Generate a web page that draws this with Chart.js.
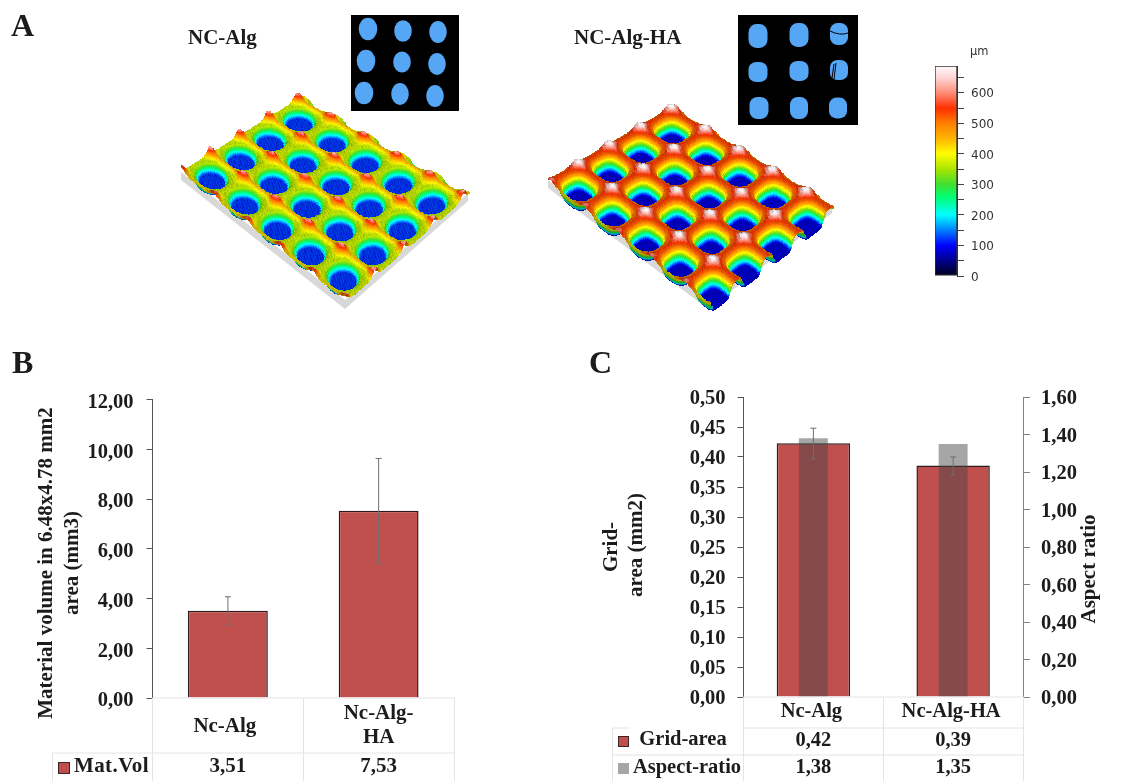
<!DOCTYPE html>
<html>
<head>
<meta charset="utf-8">
<title>Material volume, grid area and aspect ratio</title>
<script src="https://cdn.jsdelivr.net/npm/chart.js@4"></script>
<style>
  body { margin: 0; background: #fff; }
  #page { position: relative; width: 1126px; height: 781px; overflow: hidden; }
  canvas { position: absolute; }
  .lbl { position: absolute; font-family: "Liberation Serif", serif; font-weight: bold; color: #1c1c1c; white-space: nowrap; line-height: 1; }
</style>
</head>
<body>
<div id="page">
  <canvas id="photo" width="925" height="335" style="left:0;top:0"></canvas>
  <canvas id="scaleBar" width="90" height="255" style="left:920px;top:40px"></canvas>
  <canvas id="matVol" width="480" height="421" style="left:0;top:360px"></canvas>
  <canvas id="gridArea" width="546" height="421" style="left:580px;top:360px"></canvas>
  <div class="lbl" style="left:11px;top:9px;font-size:32px">A</div>
  <div class="lbl" style="left:12px;top:346px;font-size:32px">B</div>
  <div class="lbl" style="left:589px;top:346px;font-size:32px">C</div>
  <div class="lbl" style="left:188px;top:27px;font-size:21px">NC-Alg</div>
  <div class="lbl" style="left:574px;top:27px;font-size:21px">NC-Alg-HA</div>
  <div class="lbl" style="left:970px;top:44px;font:11.5px 'DejaVu Sans';color:#333">µm</div>
</div>
<script>
// panel B
const matCategories = [['Nc-Alg'], ['Nc-Alg-', 'HA']];
const matVolume = [3.51, 7.53];
const matErrLow = [2.94, 5.4];
const matErrHigh = [4.07, 9.63];
const matTable = ['3,51', '7,53'];

// panel C
const gridCategories = ['Nc-Alg', 'Nc-Alg-HA'];
const gridArea = [0.423, 0.386];
const gridErrLow = [0.397, 0.37];
const gridErrHigh = [0.448, 0.4];
const aspectRatio = [1.38, 1.35];
const gridTable = ['0,42', '0,39'];
const aspectTable = ['1,38', '1,35'];

// height colour scale of panel A
const barTicks = [0, 100, 200, 300, 400, 500, 600];
const barMax = 688;
const barStops = [
  [0, '#000018'], [50, '#00008c'], [100, '#0000ff'], [150, '#0080ff'], [200, '#00ffff'],
  [260, '#00ff70'], [300, '#40e030'], [350, '#a8e400'], [400, '#ffff00'], [450, '#ffb400'],
  [500, '#ff8000'], [550, '#ff3000'], [600, '#ff8c78'], [650, '#ffd6d6'], [688, '#fffafa'],
];

const RED = '#c0504d';
const serif = '"Liberation Serif", serif';
const comma = v => v.toFixed(2).replace('.', ',');
// the empty first line nudges a label down, the serif digits sit high otherwise
const nudged = v => ['', comma(v)];

Chart.defaults.animation = false;
Chart.defaults.responsive = false;
Chart.defaults.devicePixelRatio = 1;
Chart.defaults.plugins.legend.display = false;
Chart.defaults.plugins.tooltip.enabled = false;

function put(ctx, str, x, y, size, opts = {}) {
  ctx.save();
  ctx.translate(x, y);
  if (opts.rot) ctx.rotate(opts.rot);
  ctx.font = 'bold ' + size + 'px ' + serif;
  ctx.fillStyle = '#1c1c1c';
  ctx.textAlign = opts.align || 'center';
  ctx.textBaseline = 'middle';
  if (opts.spacing) ctx.letterSpacing = opts.spacing;
  ctx.fillText(str, 0, 0);
  ctx.restore();
}

function lines(ctx, segs, color) {
  ctx.save();
  ctx.strokeStyle = color;
  ctx.lineWidth = 1;
  ctx.beginPath();
  segs.forEach(s => { ctx.moveTo(s[0], s[1]); ctx.lineTo(s[2], s[3]); });
  ctx.stroke();
  ctx.restore();
}

function errorBars(chart, low, high, scaleId) {
  const { ctx, scales } = chart;
  const segs = [];
  low.forEach((l, i) => {
    const x = scales.x.getPixelForValue(i);
    const y0 = scales[scaleId].getPixelForValue(l);
    const y1 = scales[scaleId].getPixelForValue(high[i]);
    segs.push([x, y0, x, y1], [x - 3, y0, x + 3, y0], [x - 3, y1, x + 3, y1]);
  });
  lines(ctx, segs, '#6f6f6f');
}

function swatch(ctx, x, y, w, h, fill, edge) {
  ctx.fillStyle = fill;
  ctx.fillRect(x, y, w, h);
  if (edge) { ctx.strokeStyle = edge; ctx.strokeRect(x + .5, y + .5, w - 1, h - 1); }
}

// chart B
new Chart(document.getElementById('matVol'), {
  type: 'bar',
  data: {
    labels: matCategories,
    datasets: [{
      label: 'Mat.Vol',
      data: matVolume,
      backgroundColor: RED,
      borderColor: '#2e1c1c',
      borderWidth: 1.5,
      barPercentage: 0.53,
      categoryPercentage: 1,
    }],
  },
  options: {
    layout: { autoPadding: false, padding: { left: 0, right: 26, top: 39.5, bottom: 83 } },
    scales: {
      x: { display: false },
      y: {
        min: 0, max: 12,
        afterFit(axis) { axis.width = 152.5; },
        border: { color: '#555' },
        grid: { drawOnChartArea: false, tickLength: 6, color: '#555' },
        ticks: { stepSize: 2, padding: 13, color: '#1c1c1c', font: { family: serif, weight: 'bold', size: 20.5, lineHeight: .3 }, callback: nudged },
      },
    },
  },
  plugins: [{
    id: 'matExtras',
    afterDatasetsDraw(chart) {
      errorBars(chart, matErrLow, matErrHigh, 'y');
    },
    afterDraw(chart) {
      const { ctx, scales } = chart;
      const top = 338, row = 393, end = 421;
      lines(ctx, [
        [152.5, top, 454.5, top], [52.5, row, 454.5, row],
        [152.5, top, 152.5, end], [303.5, top, 303.5, end], [454.5, top, 454.5, end], [52.5, row, 52.5, end],
      ], '#e4e4e4');
      matCategories.forEach((c, i) => {
        const x = scales.x.getPixelForValue(i);
        if (c.length === 1) put(ctx, c[0], x - 3, 367, 21);
        else { put(ctx, c[0], x, 354, 21); put(ctx, c[1], x, 378, 21); }
        put(ctx, matTable[i], x, 407, 21);
      });
      swatch(ctx, 58, 402, 12, 12, RED, '#3a2626');
      put(ctx, 'Mat.Vol', 74, 407, 21, { align: 'left', spacing: '0.4px' });
      put(ctx, 'Material volume in 6.48x4.78 mm2', 47, 203, 21, { rot: -Math.PI / 2 });
      put(ctx, 'area (mm3)', 73, 203, 21, { rot: -Math.PI / 2 });
    },
  }],
});

// chart C
new Chart(document.getElementById('gridArea'), {
  type: 'bar',
  data: {
    labels: gridCategories,
    datasets: [
      {
        label: 'Aspect-ratio',
        data: aspectRatio,
        yAxisID: 'y1',
        order: 0,
        grouped: false,
        backgroundColor: 'rgba(70,70,70,0.48)',
        barPercentage: 0.207,
        categoryPercentage: 1,
      },
      {
        label: 'Grid-area',
        data: gridArea,
        yAxisID: 'y',
        order: 1,
        grouped: false,
        backgroundColor: RED,
        borderColor: '#2e1c1c',
        borderWidth: 1.5,
        barPercentage: 0.525,
        categoryPercentage: 1,
      },
    ],
  },
  options: {
    layout: { autoPadding: false, padding: { left: 0, right: 0, top: 37, bottom: 84 } },
    scales: {
      x: { display: false },
      y: {
        position: 'left',
        min: 0, max: 0.5,
        afterFit(axis) { axis.width = 163.5; },
        border: { color: '#555' },
        grid: { drawOnChartArea: false, tickLength: 6, color: '#555' },
        ticks: { stepSize: 0.05, padding: 12, color: '#1c1c1c', font: { family: serif, weight: 'bold', size: 20.5, lineHeight: .2 }, callback: nudged },
      },
      y1: {
        position: 'right',
        min: 0, max: 1.6,
        afterFit(axis) { axis.width = 103; },
        border: { color: '#808080' },
        grid: { drawOnChartArea: false, tickLength: 7, color: '#808080' },
        ticks: { stepSize: 0.2, padding: 11, color: '#1c1c1c', font: { family: serif, weight: 'bold', size: 20.5, lineHeight: .2 }, callback: nudged },
      },
    },
  },
  plugins: [{
    id: 'gridExtras',
    afterDatasetsDraw(chart) {
      errorBars(chart, gridErrLow, gridErrHigh, 'y');
    },
    afterDraw(chart) {
      const { ctx, scales } = chart;
      const top = 337, r1 = 368, r2 = 395, end = 421;
      lines(ctx, [
        [163.5, top, 443.5, top], [32.5, r1, 50, r1], [163.5, r1, 443.5, r1], [32.5, r2, 443.5, r2],
        [163.5, top, 163.5, end], [303.5, top, 303.5, end], [443.5, top, 443.5, end], [32.5, r1, 32.5, end],
      ], '#e4e4e4');
      gridCategories.forEach((c, i) => {
        const x = scales.x.getPixelForValue(i);
        put(ctx, c, x - 2, 352, 20.5);
        put(ctx, gridTable[i], x, 381, 20.5);
        put(ctx, aspectTable[i], x, 408, 20.5);
      });
      swatch(ctx, 38, 376, 11, 11, RED, '#3a2626');
      swatch(ctx, 38, 403, 11, 11, '#a6a6a6');
      put(ctx, 'Grid-area', 103, 380, 20.5);
      put(ctx, 'Aspect-ratio', 107, 408, 20.5);
      put(ctx, 'Grid-', 32, 187, 21, { rot: -Math.PI / 2 });
      put(ctx, 'area (mm2)', 57, 185, 21, { rot: -Math.PI / 2 });
      put(ctx, 'Aspect ratio', 510, 209, 21, { rot: -Math.PI / 2 });
    },
  }],
});

// colour scale next to panel A
function rgbOf(hex) {
  return [1, 3, 5].map(i => parseInt(hex.slice(i, i + 2), 16));
}

new Chart(document.getElementById('scaleBar'), {
  type: 'bar',
  data: {
    labels: ['µm'],
    datasets: [{
      data: [[0, barMax]],
      borderColor: '#333',
      borderWidth: 1,
      borderSkipped: false,
      barPercentage: 1,
      categoryPercentage: 1,
      backgroundColor(c) {
        const area = c.chart.chartArea;
        if (!area) return '#888';
        const g = c.chart.ctx.createLinearGradient(0, area.bottom, 0, area.top);
        barStops.forEach(s => g.addColorStop(s[0] / barMax, s[1]));
        return g;
      },
    }],
  },
  options: {
    layout: { autoPadding: false, padding: { left: 15, right: 0, top: 26, bottom: 19 } },
    scales: {
      x: { display: false },
      y: {
        position: 'right',
        min: 0, max: barMax,
        afterFit(axis) { axis.width = 53; },
        border: { color: '#333' },
        grid: { drawOnChartArea: false, tickLength: 7, color: '#444' },
        afterBuildTicks(axis) {
          const out = [];
          barTicks.forEach(v => { out.push({ value: v }); out.push({ value: v + 50 }); });
          axis.ticks = out;
        },
        ticks: {
          autoSkip: false, padding: 7, color: '#333', font: { family: '"DejaVu Sans"', size: 12, lineHeight: .25 },
          callback: v => (barTicks.includes(v) ? ['', String(v)] : ''),
        },
      },
    },
  },
});

// panel A: pictures of the printed scaffolds, drawn as plain illustrations
const lut = [];
(function () {
  for (let v = 0; v <= 700; v++) {
    let k = 0;
    while (k < barStops.length - 2 && barStops[k + 1][0] < v) k++;
    const a = barStops[k], b = barStops[k + 1];
    const t = Math.min(1, (v - a[0]) / (b[0] - a[0]));
    const ca = rgbOf(a[1]), cb = rgbOf(b[1]);
    lut.push(ca.map((c, i) => c + (cb[i] - c) * t));
  }
})();

const smooth = (a, b, x) => { const t = Math.max(0, Math.min(1, (x - a) / (b - a))); return t * t * (3 - 2 * t); };

function heightAt(u, v, s) {
  const X = (u - s.u0) / s.du, Y = (v - s.v0) / s.dv;
  const fx = X - Math.round(X), fy = Y - Math.round(Y);
  const d = Math.pow(Math.pow(Math.abs(fx), s.p) + Math.pow(Math.abs(fy), s.p), 1 / s.p);
  const wall = smooth(s.rf, s.ro, d);
  const gx = .5 - Math.abs(fx), gy = .5 - Math.abs(fy);
  const peak = Math.exp(-(gx * gx + gy * gy) / s.peakW);
  const ridge = Math.exp(-gx * gx / .005) * s.ridgeU + Math.exp(-gy * gy / .005) * s.ridgeV;
  const grain = Math.sin(u * 610 + v * 190) * Math.sin(v * 830 - u * 240) + .6 * Math.sin(u * 230 - v * 310);
  const streak = Math.sin(Math.atan2(fy, fx) * 42) * wall * (1 - wall) * 4;
  return s.floor + (s.top - s.floor) * wall + wall * (peak * s.peak + ridge)
    + grain * s.grain * (wall > .02 ? 1 : .7) + streak * s.streak;
}

function surface(img, W, s) {
  const [a, b, c, d] = s.corners;
  const N = 620, M = 560;
  for (let j = 0; j <= M; j++) {
    const v = j / M;
    for (let i = 0; i <= N; i++) {
      const u = i / N;
      const w0 = (1 - u) * (1 - v), w1 = u * (1 - v), w2 = u * v, w3 = (1 - u) * v;
      const h = heightAt(u, v, s);
      const slope = h - heightAt(u + .004, v + .004, s);
      const px = Math.round(w0 * a[0] + w1 * b[0] + w2 * c[0] + w3 * d[0]);
      const py = Math.round(w0 * a[1] + w1 * b[1] + w2 * c[1] + w3 * d[1] + (s.top - h) * s.k);
      const col = lut[Math.max(0, Math.min(700, Math.round(h)))];
      const light = Math.max(.7, Math.min(1, s.tone + slope * .006));
      for (let y = py; y < py + 2; y++) {
        for (let x = px; x < px + 2; x++) {
          const o = (y * W + x) * 4;
          img.data[o] = col[0] * light;
          img.data[o + 1] = col[1] * light;
          img.data[o + 2] = col[2] * light;
          img.data[o + 3] = 255;
        }
      }
    }
  }
}

const surfaces = [
  {
    corners: [[302, 97], [468, 193], [345, 300], [181, 172]],
    u0: .1, du: .2, v0: .17, dv: .24, p: 2, rf: .29, ro: .44,
    floor: 118, top: 352, peak: 165, peakW: .022, ridgeU: 15, ridgeV: 80, grain: 12, streak: 22, k: .03, tone: .86,
  },
  {
    corners: [[672, 107], [832, 205], [708, 300], [548, 180]],
    u0: .12, du: .21, v0: .16, dv: .25, p: 3, rf: .24, ro: .42,
    floor: 82, top: 490, peak: 130, peakW: .03, ridgeU: 45, ridgeV: 45, grain: 10, streak: 28, k: .03, tone: .84,
  },
];

const maskLeft = [
  [368, 29, 9.3, 11.2], [403, 31, 8.8, 10.8], [438, 32, 8.8, 11],
  [366, 61, 9.3, 11.2], [402, 62, 8.8, 10.5], [437, 64, 8.8, 11],
  [364, 93, 9.3, 11.3], [400, 94, 8.8, 11], [435, 96, 8.8, 11],
];
const maskRight = [
  [758, 36, 9.5, 12], [799, 35, 9.5, 12], [839, 34, 9, 11],
  [758, 72, 9.5, 10], [799, 71, 9.5, 10], [839, 70, 9, 10],
  [759, 108, 9.5, 11], [799, 108, 9, 11], [838, 108, 9, 10.5],
];

(function drawPhoto() {
  const canvas = document.getElementById('photo');
  const W = canvas.width, H = canvas.height;
  const buf = document.createElement('canvas');
  buf.width = W; buf.height = H;
  const b = buf.getContext('2d');
  b.fillStyle = '#fff';
  b.fillRect(0, 0, W, H);
  surfaces.forEach(s => {
    const [, r, f, l] = s.corners;
    b.fillStyle = '#d8d8d8';
    b.beginPath();
    b.moveTo(l[0], l[1]);
    b.lineTo(l[0], l[1] + 8);
    b.lineTo(f[0], f[1] + 9);
    b.lineTo(r[0], r[1] + 8);
    b.lineTo(r[0], r[1]);
    b.lineTo(f[0], f[1]);
    b.closePath();
    b.fill();
  });
  const img = b.getImageData(0, 0, W, H);
  surfaces.forEach(s => surface(img, W, s));
  b.putImageData(img, 0, 0);

  const ctx = canvas.getContext('2d');
  ctx.filter = 'blur(0.6px)';
  ctx.drawImage(buf, 0, 0);
  ctx.filter = 'none';

  ctx.fillStyle = '#000';
  ctx.fillRect(351, 15, 108, 96);
  ctx.fillRect(738, 15, 120, 110);
  ctx.fillStyle = '#55a6f5';
  maskLeft.forEach(m => {
    ctx.beginPath();
    ctx.ellipse(m[0], m[1], m[2], m[3], 0, 0, Math.PI * 2);
    ctx.fill();
  });
  maskRight.forEach(m => {
    ctx.beginPath();
    ctx.roundRect(m[0] - m[2], m[1] - m[3], m[2] * 2, m[3] * 2, [{ x: m[2] * .85, y: m[3] * .7 }]);
    ctx.fill();
  });
  // cracks in the third column of the right mask
  ctx.strokeStyle = '#000';
  ctx.lineWidth = 1;
  ctx.beginPath();
  ctx.moveTo(830, 31); ctx.quadraticCurveTo(840, 36, 848, 33);
  ctx.moveTo(834, 64); ctx.lineTo(832, 78);
  ctx.moveTo(836, 63); ctx.lineTo(834, 79);
  ctx.stroke();
})();
</script>
</body>
</html>
